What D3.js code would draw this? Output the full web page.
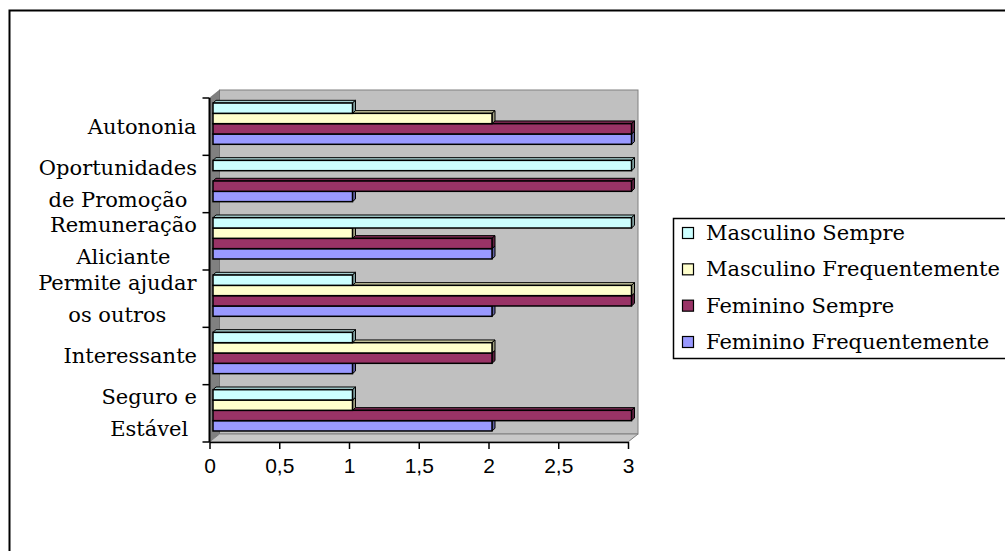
<!DOCTYPE html>
<html>
<head>
<meta charset="utf-8">
<script src="https://cdn.jsdelivr.net/npm/d3@7"></script>
<style>
  html, body { margin: 0; padding: 0; background: #fff; }
  svg { display: block; }
</style>
</head>
<body>
<div id="chart"></div>
<script>
// ── Data ─────────────────────────────────────────
var categories = ["Autononia", "Oportunidades de Promoção", "Remuneração Aliciante",
  "Permite ajudar os outros", "Interessante", "Seguro e Estável"];
var categoryLines = [["Autononia"], ["Oportunidades", "de Promoção"], ["Remuneração", "Aliciante"],
  ["Permite ajudar", "os outros"], ["Interessante"], ["Seguro e", "Estável"]];
var seriesNames = ["Masculino Sempre", "Masculino Frequentemente", "Feminino Sempre", "Feminino Frequentemente"];
var seriesColors = ["#CCFFFF", "#FFFFCC", "#993366", "#9999FF"];
var masculinoSempre = [1, 3, 3, 1, 1, 1];
var masculinoFrequentemente = [2, 0, 1, 3, 2, 1];
var femininoSempre = [3, 3, 2, 3, 2, 3];
var femininoFrequentemente = [3, 1, 2, 2, 1, 2];
var seriesValues = [masculinoSempre, masculinoFrequentemente, femininoSempre, femininoFrequentemente];
var xTicks = [0, 0.5, 1, 1.5, 2, 2.5, 3];

var W = 1005, H = 551;
var serif = "'DejaVu Serif', serif";
var svg = d3.select("#chart").append("svg").attr("width", W).attr("height", H);

// outer frame
svg.append("path").attr("d", "M9.5,551V10.5H1005").attr("fill", "none").attr("stroke", "#000").attr("stroke-width", 2);

// ── Scales ───────────────────────────────────────
var x = d3.scaleLinear().domain([0, 3]).range([209.5, 628]);
var y = d3.scaleBand().domain(categories).range([98, 442]).paddingInner(0).paddingOuter(0);
var bw = y.bandwidth();
var ySub = d3.scaleBand().domain(seriesNames).range([bw * 0.14, bw * 0.86]);

// 3D offsets: wall depth and bar placement
var wall = { dx: 10, dy: -8 };
var barFront = { dx: 3.5, dy: -3 };
var barDepth = { dx: 3, dy: -2.7 };

var x0 = x(0), x3 = x(3), yTop = y.range()[0], yBot = y.range()[1];

// back wall
svg.append("rect")
  .attr("x", x0 + wall.dx).attr("y", yTop + wall.dy)
  .attr("width", x3 - x0).attr("height", yBot - yTop)
  .attr("fill", "#C0C0C0").attr("stroke", "#808080").attr("stroke-width", 1);
// left side wall
svg.append("polygon")
  .attr("points", [[x0, yTop], [x0 + wall.dx, yTop + wall.dy], [x0 + wall.dx, yBot + wall.dy], [x0, yBot]].join(" "))
  .attr("fill", "#808080").attr("stroke", "#606060").attr("stroke-width", 0.5);
// floor
svg.append("polygon")
  .attr("points", [[x0, yBot], [x0 + wall.dx, yBot + wall.dy], [x3 + wall.dx, yBot + wall.dy], [x3, yBot]].join(" "))
  .attr("fill", "#C8C8C8").attr("stroke", "#808080").attr("stroke-width", 1);

// ── Bars ─────────────────────────────────────────
var bars = [];
categories.forEach(function (c, ci) {
  seriesNames.forEach(function (s, si) {
    var v = seriesValues[si][ci];
    if (!v) return;
    bars.push({ c: c, s: s, v: v, color: seriesColors[si] });
  });
});
// lower bars first so the bar above covers their top face
bars.sort(function (a, b) { return (y(b.c) + ySub(b.s)) - (y(a.c) + ySub(a.s)); });

var bh = ySub.bandwidth();
var barG = svg.append("g").attr("class", "bars");
bars.forEach(function (d) {
  var bx0 = x(0) + barFront.dx, bx1 = x(d.v) + barFront.dx;
  var by = y(d.c) + ySub(d.s) + barFront.dy;
  var g = barG.append("g");
  var col = d3.color(d.color);
  g.append("polygon")
    .attr("points", [[bx0, by], [bx0 + barDepth.dx, by + barDepth.dy], [bx1 + barDepth.dx, by + barDepth.dy], [bx1, by]].join(" "))
    .attr("fill", col.darker(0.6)).attr("stroke", "#000").attr("stroke-width", 1).attr("stroke-linejoin", "round");
  g.append("polygon")
    .attr("points", [[bx1, by], [bx1 + barDepth.dx, by + barDepth.dy], [bx1 + barDepth.dx, by + bh + barDepth.dy], [bx1, by + bh]].join(" "))
    .attr("fill", col.darker(1.3)).attr("stroke", "#000").attr("stroke-width", 1).attr("stroke-linejoin", "round");
  g.append("rect")
    .attr("x", bx0).attr("y", by).attr("width", bx1 - bx0).attr("height", bh)
    .attr("fill", d.color).attr("stroke", "#000").attr("stroke-width", 1.5);
});

// ── Axes ─────────────────────────────────────────
var fmt = d3.formatLocale({ decimal: ",", thousands: ".", grouping: [3], currency: ["", ""] }).format(".1~f");
var xAxis = svg.append("g").attr("transform", "translate(0," + yBot + ")")
  .call(d3.axisBottom(x).tickValues(xTicks).tickFormat(fmt).tickSizeOuter(0).tickSizeInner(7).tickPadding(9));
xAxis.select(".domain").attr("stroke", "#000").attr("stroke-width", 1.5);
xAxis.selectAll(".tick line").attr("stroke", "#000").attr("stroke-width", 1.5);
xAxis.selectAll(".tick text")
  .attr("font-family", "'Liberation Sans', Arial, sans-serif").attr("font-size", 21).attr("fill", "#000");

// y axis line and boundary ticks
var yAxis = svg.append("g");
yAxis.append("line").attr("x1", x0).attr("x2", x0).attr("y1", yTop).attr("y2", yBot)
  .attr("stroke", "#000").attr("stroke-width", 2);
var bounds = categories.map(function (c) { return y(c); }).concat([yBot]);
yAxis.selectAll(".ytick").data(bounds).join("line").attr("class", "ytick")
  .attr("x1", x0 - 7).attr("x2", x0).attr("y1", function (d) { return d; }).attr("y2", function (d) { return d; })
  .attr("stroke", "#000").attr("stroke-width", 1.5);

var lineH = 32;
categories.forEach(function (c, i) {
  var lines = categoryLines[i];
  var cy = y(c) + bw / 2;
  var t = yAxis.append("text")
    .attr("font-family", serif).attr("font-size", 21).attr("fill", "#000")
    .attr("text-anchor", "middle");
  lines.forEach(function (ln, li) {
    t.append("tspan").attr("x", 0).attr("y", cy + (li - (lines.length - 1) / 2) * lineH + 7).text(ln);
  });
  // right-align the block, centre lines inside it
  var w = t.node().getBBox().width;
  t.selectAll("tspan").attr("x", 197 - w / 2);
});

// ── Legend ───────────────────────────────────────
var leg = svg.append("g");
leg.append("rect").attr("x", 673.5).attr("y", 218.5).attr("width", 345).attr("height", 140)
  .attr("fill", "#fff").attr("stroke", "#000").attr("stroke-width", 1.5);
var legY = d3.scalePoint().domain(seriesNames).range([233, 342]);
seriesNames.forEach(function (s, i) {
  var cy = legY(s);
  leg.append("rect").attr("x", 682.5).attr("y", cy - 5.5).attr("width", 11).attr("height", 11)
    .attr("fill", seriesColors[i]).attr("stroke", "#000").attr("stroke-width", 1.2);
  leg.append("text").attr("x", 706).attr("y", cy + 7)
    .attr("font-family", serif).attr("font-size", 21).attr("fill", "#000").text(s);
});
</script>
</body>
</html>
